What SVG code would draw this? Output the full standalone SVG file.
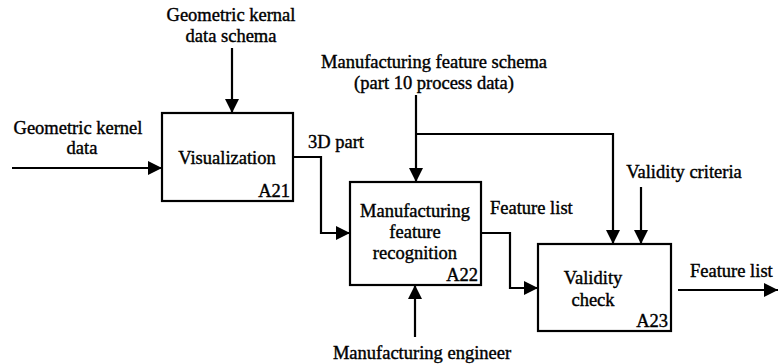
<svg xmlns="http://www.w3.org/2000/svg" width="778" height="364" viewBox="0 0 778 364">
<style>
text{font-family:"Liberation Serif","Times New Roman","DejaVu Serif",serif;font-size:18.5px;fill:#000;stroke:#000;stroke-width:0.4}
.c{text-anchor:middle}
.r{text-anchor:end}
.box{fill:#fff;stroke:#000;stroke-width:2.2}
.ln{fill:none;stroke:#000;stroke-width:2.2;marker-end:url(#ah)}
</style>
<defs>
<marker id="ah" markerUnits="userSpaceOnUse" markerWidth="14" markerHeight="14" refX="14" refY="7" orient="auto">
<path d="M0,0 L14,7 L0,14 Z" fill="#000"/>
</marker>
</defs>
<rect width="778" height="364" fill="#fff"/>
<g id="connectors">
<path class="ln" d="M12,168 H162"/>
<path class="ln" d="M232,48 V113"/>
<path class="ln" d="M293,157 H321 V233 H350"/>
<path class="ln" d="M416,95 V182"/>
<path class="ln" d="M416,134 H613 V244"/>
<path class="ln" d="M641,187 V244"/>
<path class="ln" d="M481,233 H510 V288 H538"/>
<path class="ln" d="M415,337 V285"/>
<path class="ln" d="M678,290 H778"/>
</g>
<g id="A21">
<rect class="box" x="162" y="113" width="131" height="88"/>
<text class="c" x="227" y="164">Visualization</text>
<text class="r" x="290" y="197">A21</text>
</g>
<g id="A22">
<rect class="box" x="350" y="182" width="131" height="103"/>
<text class="c" x="415" y="217">Manufacturing</text>
<text class="c" x="415" y="238">feature</text>
<text class="c" x="415" y="259">recognition</text>
<text class="r" x="478" y="281">A22</text>
</g>
<g id="A23">
<rect class="box" x="538" y="244" width="133" height="87"/>
<text class="c" x="593" y="284">Validity</text>
<text class="c" x="593" y="306">check</text>
<text class="r" x="668" y="327">A23</text>
</g>
<g id="labels">
<text class="c" x="78" y="134">Geometric kernel</text>
<text class="c" x="82" y="154">data</text>
<text class="c" x="231" y="21">Geometric kernal</text>
<text class="c" x="231" y="42">data schema</text>
<text x="308" y="148">3D part</text>
<text class="c" x="434" y="68">Manufacturing feature schema</text>
<text class="c" x="434" y="89">(part 10 process data)</text>
<text class="c" x="684" y="178">Validity criteria</text>
<text x="490" y="214">Feature list</text>
<text x="690" y="277">Feature list</text>
<text class="c" x="422" y="359">Manufacturing engineer</text>
</g>
</svg>
